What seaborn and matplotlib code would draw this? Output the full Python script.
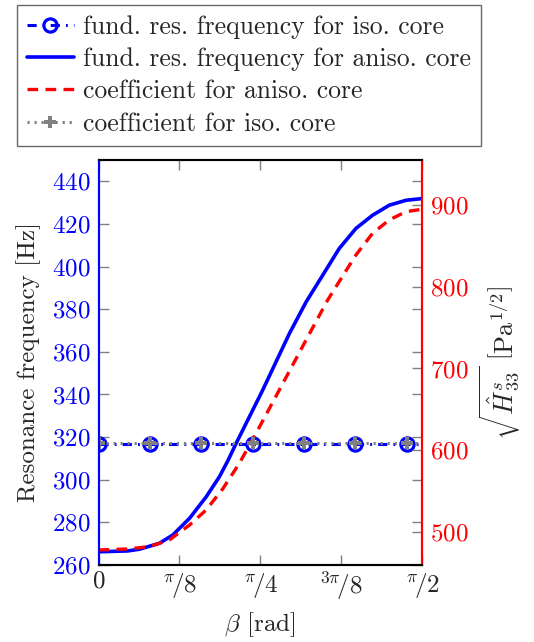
import numpy as np
import pandas as pd
import matplotlib
matplotlib.use("Agg")
import matplotlib.pyplot as plt
import seaborn as sns

# ---- data ----
beta_f = [0.0, 0.142, 0.199, 0.296, 0.361, 0.442, 0.523, 0.587, 0.628, 0.668,
          0.797, 0.927, 1.008, 1.089, 1.169, 1.250, 1.331, 1.412, 1.493, 1.571]
freq_aniso = [266.2, 266.6, 267.4, 270.2, 274.1, 281.9, 292.0, 301.4, 308.9, 317.0,
              342.0, 368.6, 383.4, 396.0, 408.5, 417.9, 424.1, 428.8, 431.1, 431.9]
beta_c = [0.0, 0.142, 0.247, 0.344, 0.442, 0.523, 0.604, 0.684, 0.765, 0.878,
          1.008, 1.113, 1.203, 1.250, 1.331, 1.412, 1.493, 1.571]
coef_aniso = [478.0, 479.2, 482.1, 490.2, 508.5, 527.0, 553.0, 584.0, 620.7, 673.7,
              734.9, 783.8, 820.0, 838.8, 865.4, 881.7, 891.8, 894.7]
beta_iso = [0.0, 0.249, 0.499, 0.748, 0.997, 1.247, 1.496, 1.571]
freq_iso = [316.6] * 8
coef_iso = [608.9] * 8

xticks = [0, np.pi / 8, np.pi / 4, 3 * np.pi / 8, np.pi / 2]
xticklabels = [r"$0$", r"${}^{\pi}\!/8$", r"${}^{\pi}\!/4$", r"${}^{3\pi}\!/8$", r"${}^{\pi}\!/2$"]
yticks_left = [260, 280, 300, 320, 340, 360, 380, 400, 420, 440]
yticks_right = [500, 600, 700, 800, 900]

labels = ["fund. res. frequency for iso. core",
          "fund. res. frequency for aniso. core",
          "coefficient for aniso. core",
          "coefficient for iso. core"]

sns.set_style("ticks")
plt.rcParams["font.family"] = ["cmr10", "DejaVu Serif"]
plt.rcParams["mathtext.fontset"] = "cm"
plt.rcParams["axes.formatter.use_mathtext"] = True

fig = plt.figure(figsize=(5.34, 6.42), dpi=100)
ax = fig.add_axes([98.5 / 534, 1 - 565 / 642, (422 - 98.5) / 534, (565 - 160) / 642])
ax2 = ax.twinx()

BLUE = "#0000ff"
RED = "#ff0000"
GRAY = "#808080"

sns.lineplot(x=beta_iso, y=freq_iso, ax=ax, color=BLUE, lw=2.2,
             linestyle=(0, (3, 2, 0.6, 2)), marker="o", markersize=9.5,
             markerfacecolor="none", markeredgecolor=BLUE, markeredgewidth=2.3,
             markevery=slice(0, 7), label=labels[0])
sns.lineplot(x=beta_f, y=freq_aniso, ax=ax, color=BLUE, lw=2.6, label=labels[1])
sns.lineplot(x=beta_c, y=coef_aniso, ax=ax2, color=RED, lw=2.4,
             linestyle=(0, (3.2, 2.2)), label=labels[2])
sns.lineplot(x=beta_iso, y=coef_iso, ax=ax2, color=GRAY, lw=2.2,
             linestyle=(0, (0.7, 1.6)), marker="P", markersize=8,
             markerfacecolor=GRAY, markeredgecolor=GRAY, markeredgewidth=0,
             markevery=slice(0, 7), label=labels[3])

h1, l1 = ax.get_legend_handles_labels()
h2, l2 = ax2.get_legend_handles_labels()
for a in (ax, ax2):
    if a.get_legend() is not None:
        a.get_legend().remove()

ax.set_xlim(0, np.pi / 2)
ax.set_ylim(260, 450)
ax2.set_ylim(459.6, 955)
ax.set_xticks(xticks)
ax.set_xticklabels(xticklabels)
ax.set_yticks(yticks_left)
ax2.set_yticks(yticks_right)

fs = 18
ax.tick_params(axis="x", direction="in", top=True, bottom=True, length=7,
               width=1, color=GRAY, labelsize=fs, pad=4)
ax.tick_params(axis="y", direction="in", left=True, right=True, length=7,
               width=1, color=GRAY, labelsize=fs, labelcolor=BLUE, pad=6)
ax2.tick_params(axis="y", direction="in", right=True, length=7, width=1,
                color=GRAY, labelsize=fs, labelcolor=RED, pad=6)

for a in (ax, ax2):
    for s in a.spines.values():
        s.set_linewidth(1.5)
        s.set_color("black")
ax.spines["left"].set_color(BLUE)
ax2.spines["left"].set_color(BLUE)
ax2.spines["right"].set_color(RED)
ax.spines["right"].set_color(RED)

ax.set_xlabel(r"$\beta$ [rad]", fontsize=fs, labelpad=6)
ax.set_ylabel("Resonance frequency [Hz]", fontsize=fs, labelpad=8)
ax2.set_ylabel(r"$\sqrt{\hat{H}^{s}_{33}}\ \left[\mathrm{Pa}^{1/2}\right]$", fontsize=fs + 1,
               labelpad=6)

handles = [h1[0], h1[1], h2[0], h2[1]]
leg = fig.legend(handles, labels, loc="upper left",
                 bbox_to_anchor=(17 / 534, 1 - 5 / 642), borderaxespad=0,
                 fontsize=18.5, frameon=True, fancybox=False, handlelength=1.8,
                 handletextpad=0.35, labelspacing=0.33, borderpad=0.4)
leg.get_frame().set_edgecolor("#444444")
leg.get_frame().set_linewidth(1.0)

fig.savefig("out.png", dpi=100)
